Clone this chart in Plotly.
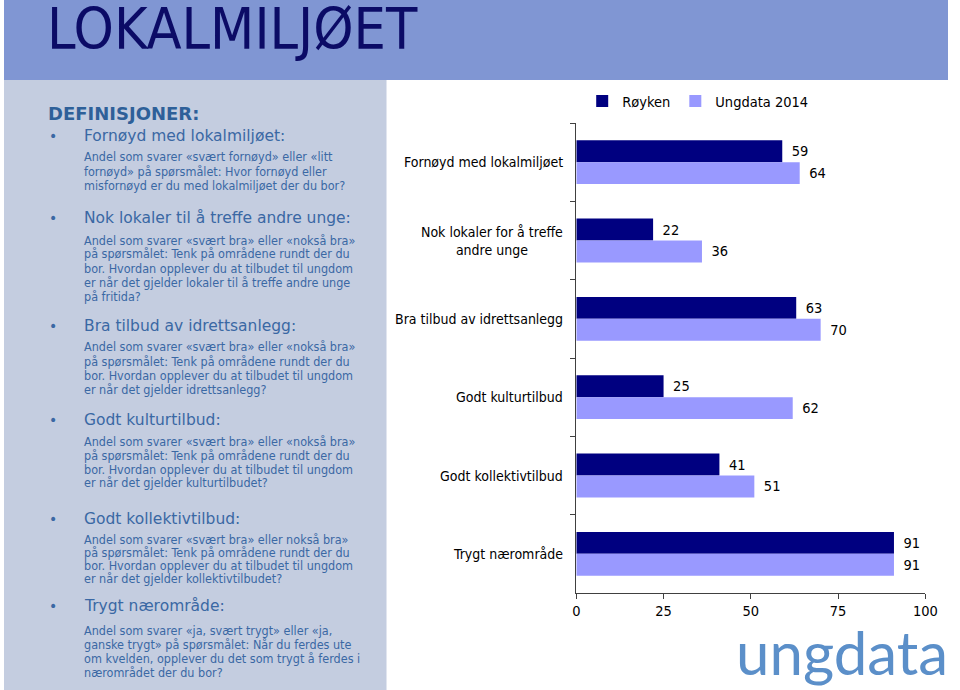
import plotly.graph_objects as go

W, H = 960, 690

# ---- data ----
categories = [
    "Fornøyd med lokalmiljøet",
    "Nok lokaler for å treffe<br>andre unge",
    "Bra tilbud av idrettsanlegg",
    "Godt kulturtilbud",
    "Godt kollektivtilbud",
    "Trygt nærområde",
]
royken = [59, 22, 63, 25, 41, 91]
ungdata = [64, 36, 70, 62, 51, 91]
series_names = ["Røyken", "Ungdata 2014"]
x_ticks = [0, 25, 50, 75, 100]

title_text = "LOKALMILJØET"
def_title = "DEFINISJONER:"
def_headers = [
    "Fornøyd med lokalmiljøet:",
    "Nok lokaler til å treffe andre unge:",
    "Bra tilbud av idrettsanlegg:",
    "Godt kulturtilbud:",
    "Godt kollektivtilbud:",
    "Trygt nærområde:",
]
def_bodies = [
    ["Andel som svarer «svært fornøyd» eller «litt",
     "fornøyd» på spørsmålet: Hvor fornøyd eller",
     "misfornøyd er du med lokalmiljøet der du bor?"],
    ["Andel som svarer «svært bra» eller «nokså bra»",
     "på spørsmålet: Tenk på områdene rundt der du",
     "bor. Hvordan opplever du at tilbudet til ungdom",
     "er når det gjelder lokaler til å treffe andre unge",
     "på fritida?"],
    ["Andel som svarer «svært bra» eller «nokså bra»",
     "på spørsmålet: Tenk på områdene rundt der du",
     "bor. Hvordan opplever du at tilbudet til ungdom",
     "er når det gjelder idrettsanlegg?"],
    ["Andel som svarer «svært bra» eller «nokså bra»",
     "på spørsmålet: Tenk på områdene rundt der du",
     "bor. Hvordan opplever du at tilbudet til ungdom",
     "er når det gjelder kulturtilbudet?"],
    ["Andel som svarer «svært bra» eller nokså bra»",
     "på spørsmålet: Tenk på områdene rundt der du",
     "bor. Hvordan opplever du at tilbudet til ungdom",
     "er når det gjelder kollektivtilbudet?"],
    ["Andel som svarer «ja, svært trygt» eller «ja,",
     "ganske trygt» på spørsmålet: Når du ferdes ute",
     "om kvelden, opplever du det som trygt å ferdes i",
     "nærområdet der du bor?"],
]

# ---- layout helpers (pixel -> paper) ----
def px(x):
    return x / W

def py(y):
    return 1 - y / H

# vertical positions of left panel text (pixels)
header_y = [136, 218, 326, 420, 519, 606]
body_first_y = [157, 240, 347, 441, 539, 630]
body_step = [14, 14, 14, 14, 13, 14]

DARK = "#000080"
LIGHT = "#9999FF"
TXT = "#3A68A4"
COND = "DejaVu Sans Condensed, DejaVu Sans"

fig = go.Figure()
for vals, name, col in ((royken, series_names[0], DARK), (ungdata, series_names[1], LIGHT)):
    fig.add_trace(go.Bar(
        y=categories, x=vals, name=name, orientation="h",
        marker=dict(color=col, line=dict(width=0)),
        text=vals, texttemplate="\u2002%{x}", textposition="outside", cliponaxis=False,
        textfont=dict(family=COND, size=14.5, color="black"),
    ))

shapes = [
    dict(type="rect", xref="paper", yref="paper", x0=0, x1=1, y0=py(80), y1=1,
         fillcolor="#8096D3", line=dict(width=0), layer="below"),
    dict(type="rect", xref="paper", yref="paper", x0=0, x1=px(389), y0=0, y1=py(80),
         fillcolor="#C4CDE0", line=dict(width=0), layer="below"),
]

annotations = []
annotations.append(dict(
    text=title_text, xref="paper", yref="paper", x=px(42), y=py(29),
    xanchor="left", yanchor="middle", showarrow=False,
    font=dict(family=COND, size=57, color="#0B0B66"),
))
annotations.append(dict(
    text="<b>" + def_title + "</b>", xref="paper", yref="paper", x=px(43), y=py(114),
    xanchor="left", yanchor="middle", showarrow=False,
    font=dict(family="DejaVu Sans", size=18, color="#2E6099"),
))
for i, hdr in enumerate(def_headers):
    annotations.append(dict(
        text="•", xref="paper", yref="paper", x=px(44), y=py(header_y[i]),
        xanchor="left", yanchor="middle", showarrow=False,
        font=dict(family="DejaVu Sans", size=14, color=TXT),
    ))
    annotations.append(dict(
        text=hdr, xref="paper", yref="paper", x=px(79), y=py(header_y[i]),
        xanchor="left", yanchor="middle", showarrow=False,
        font=dict(family="DejaVu Sans", size=15.5, color=TXT),
    ))
    for j, line in enumerate(def_bodies[i]):
        annotations.append(dict(
            text=line, xref="paper", yref="paper", x=px(79),
            y=py(body_first_y[i] + j * body_step[i]),
            xanchor="left", yanchor="middle", showarrow=False,
            font=dict(family=COND, size=12.5, color=TXT),
        ))

# category labels, placed through the y axis
for cat in categories:
    annotations.append(dict(
        text=cat, xref="paper", yref="y", x=px(571), y=cat,
        xanchor="right", yanchor="middle", align="center", showarrow=False,
        font=dict(family=COND, size=14, color="black"),
    ))

# logo
annotations.append(dict(
    text="ungdata", xref="paper", yref="paper", x=px(742), y=0,
    xanchor="left", yanchor="bottom", showarrow=False,
    font=dict(family="Lato", size=60, color="#5B8FC9", weight=400),
))

fig.update_layout(
    width=W, height=H, autosize=False,
    margin=dict(l=0, r=0, t=0, b=0, pad=0),
    paper_bgcolor="white", plot_bgcolor="white",
    barmode="group", bargap=0.44, bargroupgap=0,
    shapes=shapes, annotations=annotations,
    showlegend=True,
    legend=dict(orientation="h", x=px(588), y=py(101), xanchor="left", yanchor="middle",
                font=dict(family=COND, size=14.5, color="black"),
                bgcolor="rgba(0,0,0,0)", itemwidth=30, traceorder="normal"),
    xaxis=dict(domain=[px(582), px(937)], range=[0, 100], tickvals=x_ticks,
               showgrid=False, zeroline=False, showline=True, linecolor="#404040", linewidth=1,
               ticks="outside", ticklen=5, tickcolor="#404040",
               tickfont=dict(family=COND, size=14.5, color="black"),
               fixedrange=True),
    yaxis=dict(domain=[py(593), py(123)], autorange="reversed", type="category",
               categoryorder="array", categoryarray=categories,
               showticklabels=False, showgrid=False, zeroline=False,
               showline=True, linecolor="#404040", linewidth=1,
               ticks="outside", ticklen=5, tickcolor="#404040", tickson="boundaries",
               fixedrange=True),
    font=dict(family=COND),
)

fig.write_html(
    "out.html",
    config={"displayModeBar": False, "responsive": False},
    post_script="document.body.style.margin='0px';document.body.style.overflow='hidden';",
)
